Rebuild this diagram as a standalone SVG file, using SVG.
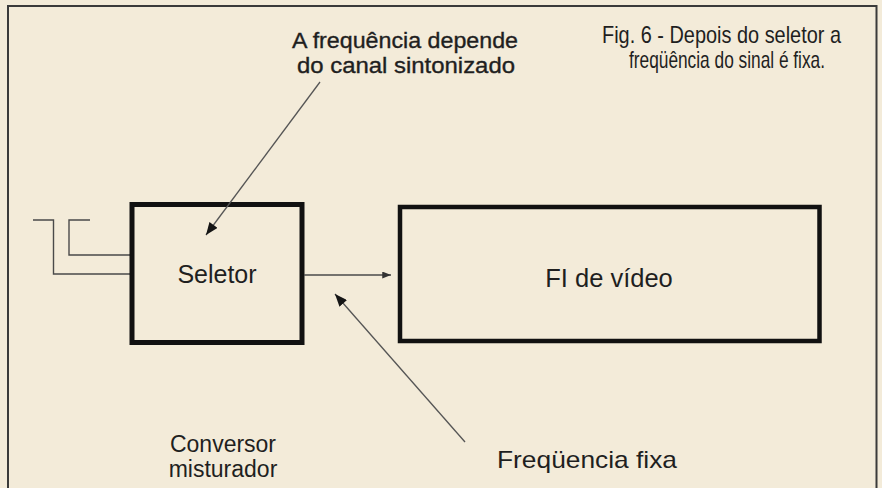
<svg xmlns="http://www.w3.org/2000/svg" width="882" height="488" viewBox="0 0 882 488">
  <style>
    .t { font-family: "Liberation Sans", Arial, sans-serif; fill: #1f1f1f; }
    .box { fill: none; stroke: #111; stroke-linejoin: miter; }
    .wire { fill: none; stroke: #4a4a4a; stroke-width: 1.4; }
    .lead { fill: none; stroke: #555; stroke-width: 1.3; }
  </style>
  <defs>
    <marker id="ah" viewBox="0 0 10 8" refX="10" refY="4" markerWidth="13" markerHeight="10" markerUnits="userSpaceOnUse" orient="auto">
      <path d="M0,0 L10,4 L0,8 z" fill="#151515"/>
    </marker>
    <marker id="ahs" viewBox="0 0 10 8" refX="10" refY="4" markerWidth="9" markerHeight="7" markerUnits="userSpaceOnUse" orient="auto">
      <path d="M0,0 L10,4 L0,8 z" fill="#333"/>
    </marker>
  </defs>
  <rect x="0" y="0" width="882" height="488" fill="#f3ebd9"/>
  <path d="M8,488 V6 H876.5 V488" fill="none" stroke="#3a3a3a" stroke-width="2"/>

  <g id="caption">
    <text class="t" transform="translate(602,43) scale(1,1.2)" x="0" y="0" font-size="20" textLength="239" lengthAdjust="spacingAndGlyphs">Fig. 6 - Depois do seletor a</text>
    <text class="t" transform="translate(629,68) scale(1,1.2)" x="0" y="0" font-size="20" textLength="196" lengthAdjust="spacingAndGlyphs">freqüência do sinal é fixa.</text>
  </g>

  <g id="label-frequencia-depende">
    <text class="t" x="292" y="48" font-size="22" textLength="226" lengthAdjust="spacingAndGlyphs" stroke="#1f1f1f" stroke-width="0.35">A frequência depende</text>
    <text class="t" x="297" y="73" font-size="22" textLength="218" lengthAdjust="spacingAndGlyphs" stroke="#1f1f1f" stroke-width="0.35">do canal sintonizado</text>
  </g>

  <g id="antenna">
    <path class="wire" d="M33,220 H53.5 V274 H132"/>
    <path class="wire" d="M90,220 H69 V255 H132"/>
  </g>

  <g id="node-seletor">
    <rect class="box" x="132" y="204.5" width="170" height="138" stroke-width="5"/>
    <text class="t" x="217" y="283" font-size="25" text-anchor="middle">Seletor</text>
  </g>

  <g id="node-fi">
    <rect class="box" x="400" y="207" width="419.5" height="134" stroke-width="4.5"/>
    <text class="t" x="609" y="287" font-size="25.5" text-anchor="middle">FI de vídeo</text>
  </g>

  <g id="label-conversor">
    <text class="t" x="223" y="452" font-size="23" text-anchor="middle">Conversor</text>
    <text class="t" x="223" y="477" font-size="23" text-anchor="middle">misturador</text>
  </g>

  <g id="label-frequencia-fixa">
    <text class="t" x="497" y="468" font-size="24" textLength="180" lengthAdjust="spacingAndGlyphs">Freqüencia fixa</text>
  </g>

  <g id="connectors">
    <line class="wire" x1="304" y1="275" x2="391" y2="275" marker-end="url(#ahs)"/>
    <line class="lead" x1="320" y1="82" x2="206" y2="235" marker-end="url(#ah)"/>
    <line class="lead" x1="465" y1="442" x2="335" y2="294" marker-end="url(#ah)"/>
  </g>
</svg>
